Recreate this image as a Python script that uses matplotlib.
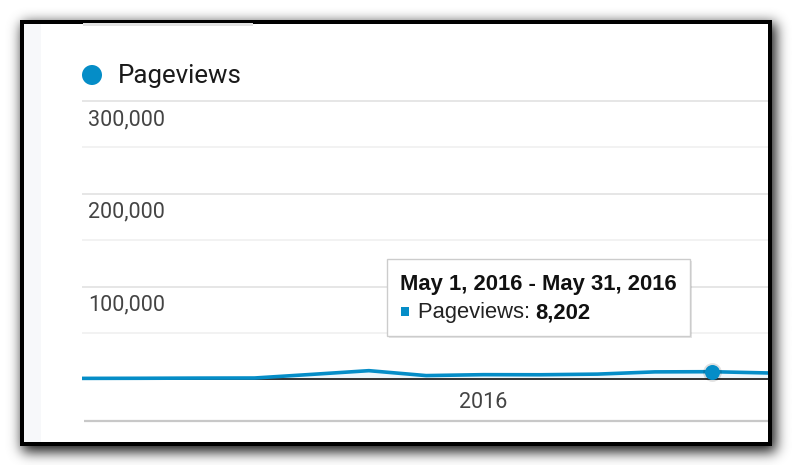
import numpy as np
import matplotlib
matplotlib.use("Agg")
import matplotlib.pyplot as plt
from matplotlib.patches import Rectangle, Circle

# ---------------- data ----------------
months = ["Jun 2015", "Jul 2015", "Aug 2015", "Sep 2015", "Oct 2015", "Nov 2015",
          "Dec 2015", "Jan 2016", "Feb 2016", "Mar 2016", "Apr 2016", "May 2016",
          "Jun 2016"]
pageviews = [1000, 1100, 1300, 1400, 5300, 9300, 4000, 5000, 4900, 5600, 8000, 8202, 6800]
y_tick_values = [100000, 200000, 300000]
y_grid_values = [50000, 100000, 150000, 200000, 250000, 300000]
x_label_month = "Jan 2016"
x_label_text = "2016"
highlight_month = "May 2016"
tooltip_title = "May 1, 2016 - May 31, 2016"
series_name = "Pageviews"

# ---------------- layout ----------------
W, H, DPI = 792, 465, 100
BLUE = "#058dc7"
PT = 72.0 / DPI  # points per pixel

fig = plt.figure(figsize=(W / DPI, H / DPI), dpi=DPI)
fig.patch.set_facecolor("white")

# background (pixel coordinates, origin top-left)
bg = fig.add_axes([0, 0, 1, 1], zorder=-5)
bg.set_xlim(0, W)
bg.set_ylim(H, 0)
bg.axis("off")


def blur(a, sigma, axis):
    r = int(3 * sigma)
    k = np.exp(-0.5 * (np.arange(-r, r + 1) / sigma) ** 2)
    k /= k.sum()
    return np.apply_along_axis(lambda v: np.convolve(v, k, mode="same"), axis, a)


yy, xx = np.mgrid[0:H, 0:W] + 0.5
mask = ((xx > 22) & (xx < 776) & (yy > 24) & (yy < 452)).astype(float)
shadow = blur(blur(mask, 6.5, 0), 6.5, 1)
img = 1 - 0.9 * shadow
bg.imshow(img, cmap="gray", vmin=0, vmax=1, extent=(0, W, H, 0),
          interpolation="bilinear", aspect="auto")

bg.add_patch(Rectangle((20, 20), 752, 426, fc="black", ec="none"))
bg.add_patch(Rectangle((24, 24), 744, 418, fc="white", ec="none"))
bg.add_patch(Rectangle((24, 24), 17, 418, fc="#f7f8fa", ec="none"))
bg.add_patch(Rectangle((83, 23.5), 170, 2.5, fc="#e2e2e2", ec="none"))
bg.plot([84, 768], [421, 421], color="#c8c8c8", lw=1.6, solid_capstyle="butt")

# legend
bg.add_patch(Circle((92, 75), 10, fc=BLUE, ec="none"))
bg.text(118, 83, series_name, fontsize=18.6, family="Roboto", color="#1a1a1a",
        ha="left", va="baseline")

# ---------------- main chart ----------------
left_px, right_px, top_px, bot_px = 82, 768, 24, 442
zero_px, top_grid_px = 379.3, 101.0
k = (zero_px - top_grid_px) / y_grid_values[-1]  # px per unit

ax = fig.add_axes([left_px / W, (H - bot_px) / H, (right_px - left_px) / W,
                   (bot_px - top_px) / H], zorder=1)
ax.set_facecolor("none")
for s in ax.spines.values():
    s.set_visible(False)
ax.set_xticks([])
ax.set_yticks([])

step_px = 57.18
first_px = 83.0
ax.set_xlim((left_px - first_px) / step_px, (right_px - first_px) / step_px)
ax.set_ylim(-(bot_px - zero_px) / k, (zero_px - top_px) / k)

for v in y_grid_values:
    major = v in y_tick_values
    ax.axhline(v, color="#e4e4e4" if major else "#f1f1f1", lw=1.3, zorder=1)

x = np.arange(len(months))
ax.fill_between(x, 0, pageviews, color=BLUE, alpha=0.07, lw=0, zorder=2)
ax.axhline(0, color="#333333", lw=1.4, zorder=3)
ax.plot(x, pageviews, color=BLUE, lw=2.6, solid_joinstyle="round", zorder=4)

hi = months.index(highlight_month)
ax.plot(hi, pageviews[hi], "o", ms=13.5, color="black", alpha=0.12, mew=0, zorder=5)
ax.plot(hi, pageviews[hi], "o", ms=10.8, color=BLUE, mew=0, zorder=6)

for v in y_tick_values:
    ax.annotate(f"{v:,}", xy=(0, v), xycoords=ax.get_yaxis_transform(),
                xytext=(6 * PT, -24 * PT), textcoords="offset points",
                ha="left", va="baseline", fontsize=15.5, family="Roboto",
                color="#444444")

xi = months.index(x_label_month)
ax.annotate(x_label_text, xy=(xi, 0), xycoords="data",
            xytext=(0, -29 * PT), textcoords="offset points",
            ha="center", va="baseline", fontsize=15.5, family="Roboto",
            color="#444444", annotation_clip=False)

# ---------------- tooltip ----------------
ov = fig.add_axes([0, 0, 1, 1], zorder=10)
ov.set_xlim(0, W)
ov.set_ylim(H, 0)
ov.axis("off")
ov.set_facecolor("none")
ov.add_patch(Rectangle((388.5, 260.5), 303, 77, fc="black", alpha=0.10, ec="none"))
ov.add_patch(Rectangle((387, 259), 303, 77, fc="white", ec="#cccccc", lw=1))
ov.text(400, 290, tooltip_title, fontsize=15.8, family="Liberation Sans",
        weight="bold", color="#111111", ha="left", va="baseline")
ov.add_patch(Rectangle((400.5, 307), 8.5, 8.5, fc=BLUE, ec="none"))
ov.text(418, 318, f"{series_name}: ", fontsize=15.8, family="Liberation Sans",
        color="#222222", ha="left", va="baseline")
ov.text(535, 318, f"{pageviews[hi]:,}", fontsize=15.8, family="Liberation Sans",
        weight="bold", color="#111111", ha="left", va="baseline")

fig.savefig("out.png", dpi=DPI)
